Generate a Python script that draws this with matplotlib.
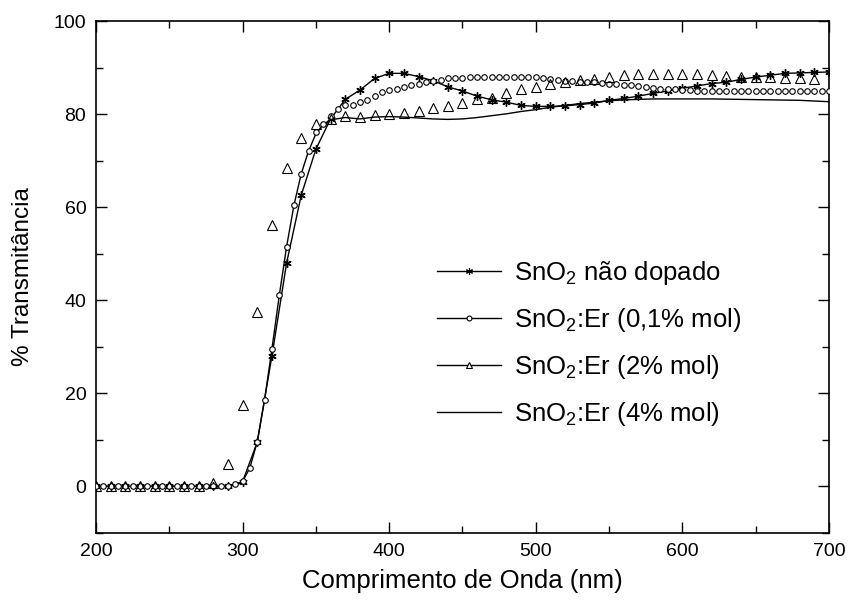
import matplotlib
matplotlib.use("Agg")
import matplotlib.pyplot as plt
from matplotlib.lines import Line2D

plt.rcParams['font.family'] = ['Liberation Sans', 'DejaVu Sans']
plt.rcParams['mathtext.default'] = 'regular'

# Undoped SnO2 (asterisks, every 10 nm)
wl_undoped = [200, 210, 220, 230, 240, 250, 260, 270, 280, 290, 300, 310, 320, 330, 340,
              350, 360, 370, 380, 390, 400, 410, 420, 430, 440, 450, 460, 470, 480, 490,
              500, 510, 520, 530, 540, 550, 560, 570, 580, 590, 600, 610, 620, 630, 640,
              650, 660, 670, 680, 690, 700]
t_undoped = [0, 0, 0, 0, 0, 0, 0, 0, 0, 0, 1.0, 9.5, 28.0, 48.0, 62.6,
             72.5, 79.0, 83.2, 85.2, 87.7, 88.8, 88.8, 88.1, 87.2, 85.9, 85.0, 83.9, 83.1, 82.6, 81.9,
             81.7, 81.7, 81.8, 82.1, 82.4, 83.0, 83.4, 83.9, 84.5, 85.0, 85.6, 86.1, 86.6, 86.9, 87.5,
             88.0, 88.4, 88.8, 88.9, 89.0, 89.1]

# SnO2:Er 0.1% mol (open circles, every 5 nm)
wl_er01 = [200, 205, 210, 215, 220, 225, 230, 235, 240, 245,
           250, 255, 260, 265, 270, 275, 280, 285, 290, 295,
           300, 305, 310, 315, 320, 325, 330, 335, 340, 345,
           350, 355, 360, 365, 370, 375, 380, 385, 390, 395,
           400, 405, 410, 415, 420, 425, 430, 435, 440, 445,
           450, 455, 460, 465, 470, 475, 480, 485, 490, 495,
           500, 505, 510, 515, 520, 525, 530, 535, 540, 545,
           550, 555, 560, 565, 570, 575, 580, 585, 590, 595,
           600, 605, 610, 615, 620, 625, 630, 635, 640, 645,
           650, 655, 660, 665, 670, 675, 680, 685, 690, 695, 700]
t_er01 = [0, 0, 0, 0, 0, 0, 0, 0, 0, 0,
          0, 0, 0, 0, 0, 0, 0, 0, 0, 0.6,
          1.2, 4.0, 9.6, 18.6, 29.5, 41.1, 51.5, 60.4, 67.2, 72.1,
          76.1, 77.9, 79.6, 81.2, 81.9, 82.0, 82.6, 83.0, 83.9, 84.7,
          85.2, 85.5, 85.8, 86.2, 86.6, 86.9, 87.1, 87.4, 87.8, 87.9,
          87.9, 88.0, 88.0, 88.0, 88.0, 88.0, 88.0, 88.0, 88.0, 88.0,
          88.0, 87.8, 87.6, 87.4, 87.2, 87.1, 87.0, 87.0, 86.9, 86.7,
          86.6, 86.5, 86.3, 86.2, 86.0, 85.8, 85.6, 85.5, 85.5, 85.4,
          85.3, 85.2, 85.1, 85.1, 85.1, 85.1, 85.1, 85.1, 85.1, 85.1,
          85.1, 85.1, 85.1, 85.1, 85.1, 85.1, 85.1, 85.1, 85.1, 85.1, 85.1]

# SnO2:Er 2% mol (open triangles, every 10 nm)
wl_er2 = [200, 210, 220, 230, 240, 250, 260, 270, 280, 290, 300, 310, 320, 330, 340,
          350, 360, 370, 380, 390, 400, 410, 420, 430, 440, 450, 460, 470, 480, 490,
          500, 510, 520, 530, 540, 550, 560, 570, 580, 590, 600, 610, 620, 630, 640,
          650, 660, 670, 680, 690]
t_er2 = [0, 0, 0, 0, 0, 0, 0, 0, 0.8, 4.9, 17.5, 37.5, 56.2, 68.4, 74.8,
         78.0, 79.0, 79.6, 79.5, 79.9, 80.0, 80.2, 80.8, 81.3, 81.8, 82.5, 83.2, 83.6, 84.5, 85.4,
         85.8, 86.5, 87.0, 87.4, 87.6, 88.1, 88.4, 88.6, 88.7, 88.7, 88.7, 88.6, 88.4, 88.3, 88.1,
         88.0, 88.0, 87.9, 87.7, 87.5]

# SnO2:Er 4% mol (solid line)
wl_er4 = [200, 250, 290, 295, 300, 305, 310, 315, 320, 325, 330, 335, 340, 345, 350, 355,
          360, 370, 380, 390, 400, 410, 420, 430, 440, 450, 460, 470, 480, 490, 500, 510, 520,
          530, 540, 550, 560, 570, 580, 590, 600, 620, 640, 660, 680, 700]
t_er4 = [0, 0, 0, 0.2, 1.0, 4.0, 9.6, 18.6, 29.5, 41.0, 51.5, 60.4, 67.2, 72.1, 75.8, 77.8,
         78.8, 79.3, 79.0, 79.4, 79.5, 79.4, 79.2, 79.0, 78.9, 79.0, 79.3, 79.7, 80.1, 80.6, 81.0,
         81.5, 81.9, 82.3, 82.6, 82.9, 83.1, 83.2, 83.3, 83.3, 83.3, 83.3, 83.2, 83.1, 83.0, 82.7]

labels = ['SnO$_2$ não dopado', 'SnO$_2$:Er (0,1% mol)', 'SnO$_2$:Er (2% mol)', 'SnO$_2$:Er (4% mol)']

fig = plt.figure(figsize=(8.48, 6.06), dpi=100)
ax = fig.add_axes([0.1132, 0.1208, 0.8644, 0.8441])

asterisk = (6, 2, 0)
ax.plot(wl_er4, t_er4, color='black', lw=1.0, zorder=2)
ax.plot(wl_undoped, t_undoped, color='black', lw=1.0, marker=asterisk, ms=6, mew=1.0, zorder=3)
ax.plot(wl_er01, t_er01, ls='none', marker='o', ms=4, mfc='white', mec='black', mew=0.8, zorder=4)
ax.plot(wl_er2, t_er2, ls='none', marker='^', ms=7, mfc='none', mec='black', mew=0.8, zorder=4)

ax.set_xlim(200, 700)
ax.set_ylim(-10, 100)
ax.set_xticks([200, 300, 400, 500, 600, 700])
ax.set_xticks([250, 350, 450, 550, 650], minor=True)
ax.set_yticks([0, 20, 40, 60, 80, 100])
ax.set_yticks([-10, 10, 30, 50, 70, 90], minor=True)
ax.tick_params(which='both', direction='in', top=True, right=True, labelsize=14, width=1.0)
ax.tick_params(which='major', length=8, pad=7)
ax.tick_params(which='minor', length=5)
for s in ax.spines.values():
    s.set_linewidth(1.2)

ax.set_xlabel('Comprimento de Onda (nm)', fontsize=18.5, labelpad=7)
ax.set_ylabel('% Transmitância', fontsize=17.5, labelpad=14)

handles = [
    Line2D([], [], color='black', lw=1.0, marker=asterisk, ms=5, mew=0.8),
    Line2D([], [], color='black', lw=1.0, marker='o', ms=3.5, mfc='white', mew=0.8),
    Line2D([], [], color='black', lw=1.0, marker='^', ms=5, mfc='white', mew=0.8),
    Line2D([], [], color='black', lw=1.0),
]
ax.legend(handles, labels, loc='center left', bbox_to_anchor=(0.451, 0.370), borderaxespad=0,
          frameon=False, fontsize=18.5, handlelength=2.5, handletextpad=0.5, labelspacing=0.73)

fig.savefig('out.png', dpi=100)
